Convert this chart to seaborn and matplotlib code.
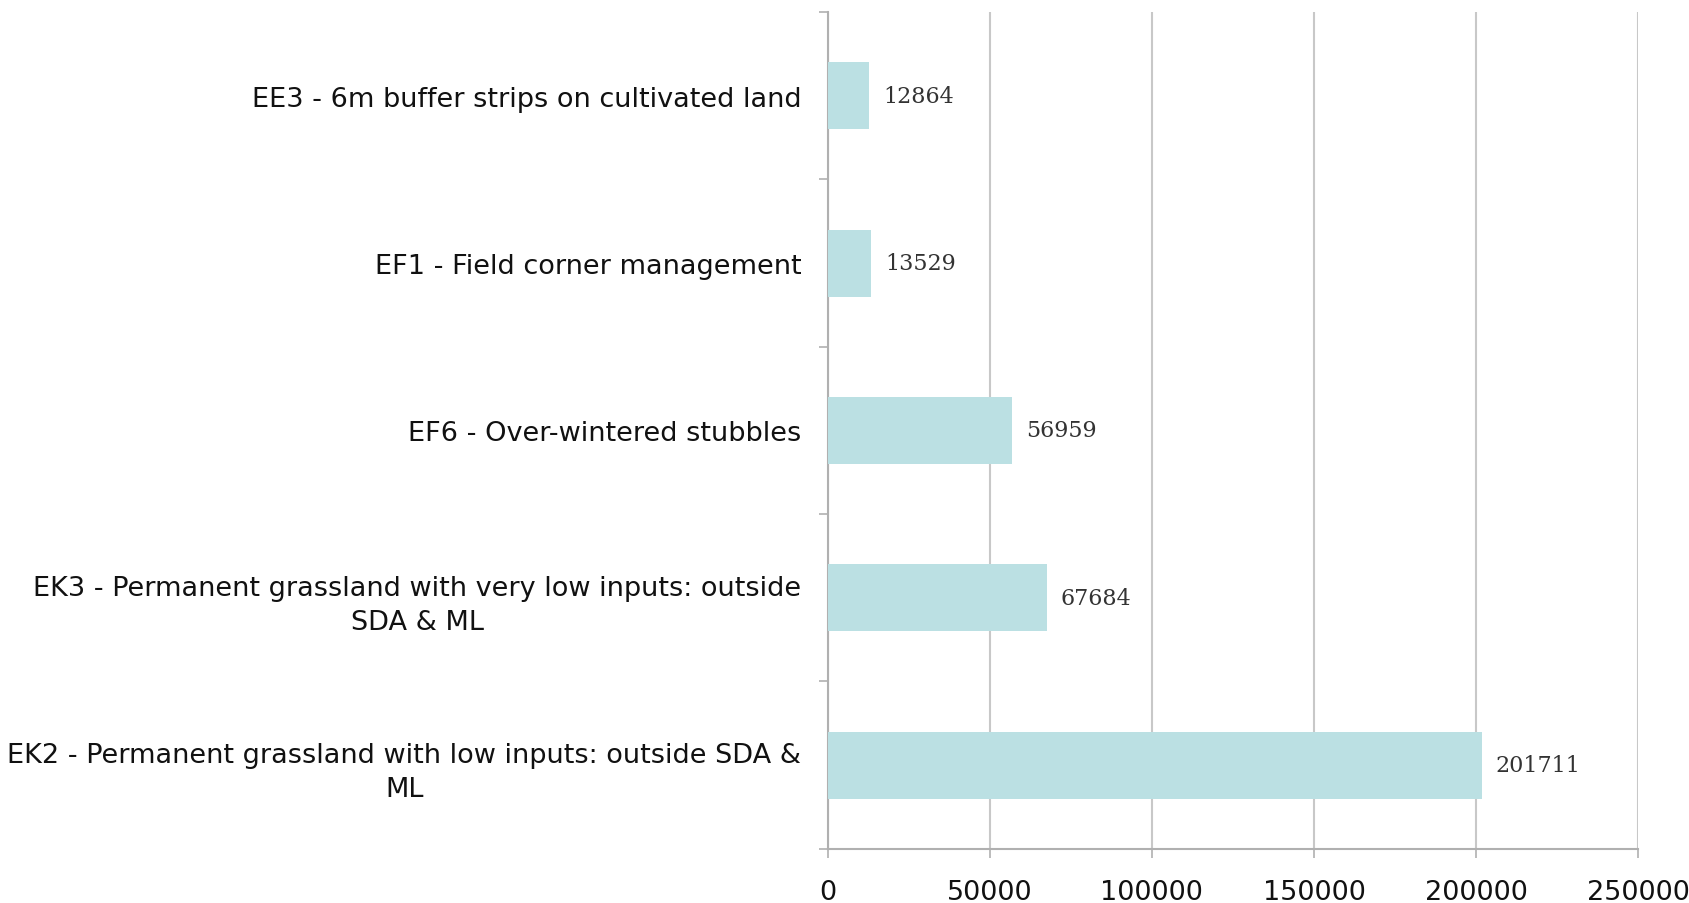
import matplotlib
matplotlib.use("Agg")
import matplotlib.pyplot as plt
import pandas as pd
import seaborn as sns
from matplotlib.ticker import FixedLocator

OUT_FILE = "out.png"

categories = [
    "EE3 - 6m buffer strips on cultivated land",
    "EF1 - Field corner management",
    "EF6 - Over-wintered stubbles",
    "EK3 - Permanent grassland with very low inputs: outside\nSDA & ML",
    "EK2 - Permanent grassland with low inputs: outside SDA &\nML",
]
values = [12864, 13529, 56959, 67684, 201711]
x_ticks = [0, 50000, 100000, 150000, 200000, 250000]

df = pd.DataFrame({"option": categories, "area": values})

sns.set_style("white")
plt.rcParams["font.family"] = ["DejaVu Sans"]

fig = plt.figure(figsize=(16.89, 9.04), dpi=100)
ax = fig.add_axes([0.490, 0.060, 0.480, 0.9256])

sns.barplot(data=df, x="area", y="option", order=categories, color="#BBE0E3",
            width=0.4, saturation=1, linewidth=0, ax=ax, zorder=3)

ax.set_xlim(0, 250000)
ax.set_ylim(4.5, -0.5)
ax.set_xticks(x_ticks)
ax.set_xticklabels([str(t) for t in x_ticks], fontsize=19.5, color="#111111")
ax.grid(axis="x", color="#C8C8C8", linewidth=1.5, zorder=0)
ax.grid(axis="y", visible=False)

for side in ["top", "right"]:
    ax.spines[side].set_visible(False)
for side in ["left", "bottom"]:
    ax.spines[side].set_color("#B0B0B0")
    ax.spines[side].set_linewidth(1.5)

ax.yaxis.set_minor_locator(FixedLocator([-0.5, 0.5, 1.5, 2.5, 3.5, 4.5]))
ax.tick_params(axis="y", which="major", length=0, pad=19, labelsize=19.5, labelcolor="#111111")
ax.tick_params(axis="y", which="minor", length=6.5, width=1.2, color="#B0B0B0", left=True)
ax.tick_params(axis="x", which="major", length=6.5, width=1.2, color="#B0B0B0", pad=15, bottom=True)
for lbl in ax.get_yticklabels():
    lbl.set_multialignment("center")
    lbl.set_linespacing(1.4)

ax.bar_label(ax.containers[0], labels=[str(v) for v in values], padding=10,
             fontsize=16, family="DejaVu Serif", color="#333333")

ax.set_xlabel("")
ax.set_ylabel("")

plt.savefig(OUT_FILE, dpi=100)
plt.close()
